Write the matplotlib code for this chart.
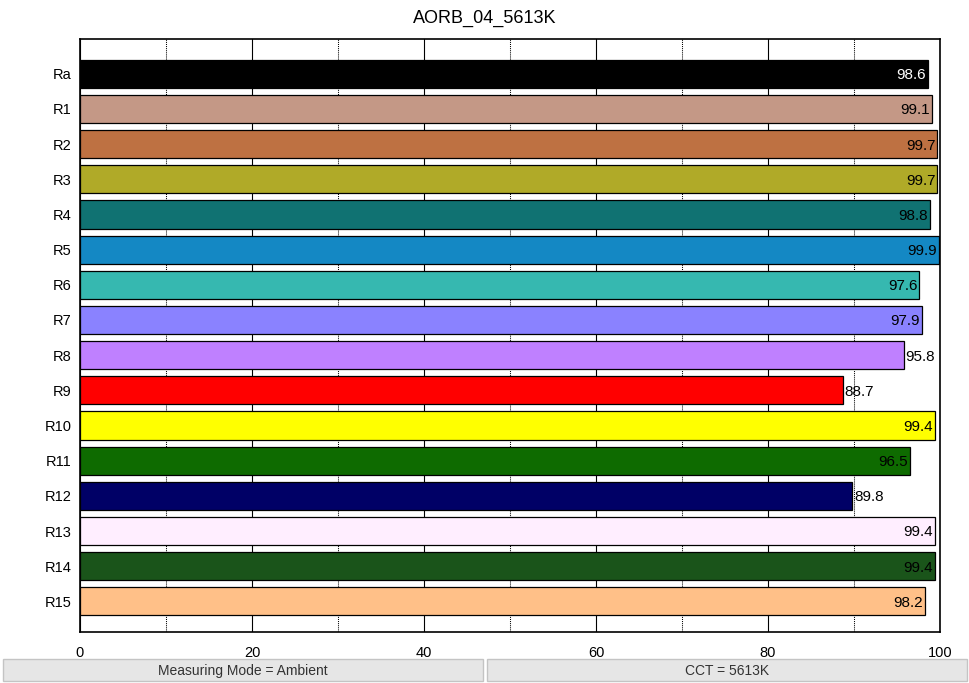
"""CRI bar chart AORB_04_5613K"""

import matplotlib

matplotlib.use("Agg")
import matplotlib.pyplot as plt
from matplotlib.patches import FancyBboxPatch
from matplotlib.ticker import MultipleLocator

TITLE = "AORB_04_5613K"
LABELS = ["Ra", "R1", "R2", "R3", "R4", "R5", "R6", "R7",
          "R8", "R9", "R10", "R11", "R12", "R13", "R14", "R15"]
VALUES = [98.6, 99.1, 99.7, 99.7, 98.8, 99.9, 97.6, 97.9,
          95.8, 88.7, 99.4, 96.5, 89.8, 99.4, 99.4, 98.2]
COLORS = ["#000000", "#C49886", "#BE7142", "#B0AA28", "#107272", "#1488C4",
          "#36B8B0", "#8A82FF", "#BF80FF", "#FF0000", "#FFFF00", "#0E6B00",
          "#000066", "#FFEEFF", "#1A541A", "#FFC088"]
FOOTER = ["Measuring Mode = Ambient", "CCT = 5613K"]

plt.rcParams["font.family"] = ["Liberation Sans", "DejaVu Sans"]

fig = plt.figure(figsize=(9.7, 6.83), dpi=100)
ax = fig.add_axes([80 / 970, 1 - 632.3 / 683, 860 / 970, (632.3 - 39.3) / 683])

ypos = list(range(len(LABELS)))
ax.barh(ypos, VALUES, height=0.8, color=COLORS, edgecolor="black",
        linewidth=0.9, zorder=2)

for y, v, c in zip(ypos, VALUES, COLORS):
    txt_color = "white" if c == "#000000" else "black"
    if v >= 96:
        ax.annotate(f"{v:.1f}", (v, y), xytext=(-1.5, -1), textcoords="offset points",
                    ha="right", va="center", fontsize=11, color=txt_color, zorder=3)
    else:
        ax.annotate(f"{v:.1f}", (v, y), xytext=(1.2, -1), textcoords="offset points",
                    ha="left", va="center", fontsize=11, color="black", zorder=3)

ax.set_xlim(0, 100)
ax.set_ylim(15.88, -0.98)
ax.set_yticks(ypos)
ax.set_yticklabels(LABELS)
ax.xaxis.set_major_locator(MultipleLocator(20))
ax.xaxis.set_minor_locator(MultipleLocator(10))
ax.grid(True, which="major", axis="x", color="black", linewidth=0.8, zorder=0)
ax.grid(True, which="minor", axis="x", color="black", linewidth=0.75,
        linestyle=(0, (1, 1)), zorder=0)
ax.set_axisbelow(True)
ax.tick_params(axis="both", which="both", length=0, labelsize=10.5)
ax.tick_params(axis="x", pad=10)
ax.tick_params(axis="y", pad=6)
for s in ax.spines.values():
    s.set_linewidth(1.2)

fig.text(0.5, 1 - 18 / 683, TITLE, ha="center", va="center", fontsize=13)

# footer boxes
boxes = [(3, 483), (487, 967)]
for (x0, x1), txt in zip(boxes, FOOTER):
    p = FancyBboxPatch((x0 / 970, 1 - 681 / 683), (x1 - x0) / 970, 22 / 683,
                       boxstyle="square,pad=0", transform=fig.transFigure,
                       facecolor="#E6E6E6", edgecolor="#C4C4C4", linewidth=1.0)
    fig.patches.append(p)
    fig.text((x0 + x1) / 2 / 970, 1 - 671 / 683, txt, ha="center", va="center",
             fontsize=10, color="#333333")

fig.savefig("out.png", dpi=100)
